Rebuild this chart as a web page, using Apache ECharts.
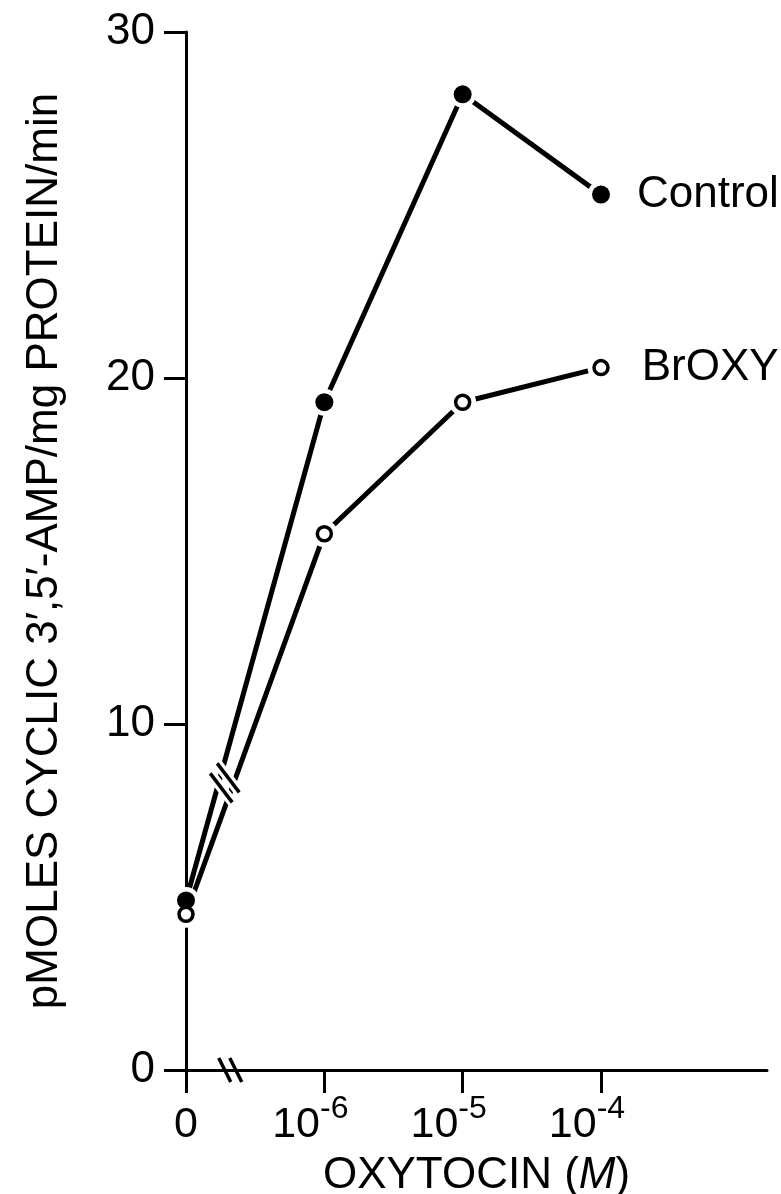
<!DOCTYPE html>
<html><head><meta charset="utf-8">
<script src="https://cdn.jsdelivr.net/npm/echarts@6/dist/echarts.min.js"></script>
<style>html,body{margin:0;padding:0;background:#fff}#c{width:781px;height:1194px}</style>
</head><body><div id="c"></div>
<script>
// ---- data ----
const categories = ['0', '10^-6', '10^-5', '10^-4'];
const tickBase = ['0', '10', '10', '10'];
const tickExp = ['', '-6', '-5', '-4'];
const controlValues = [4.9, 19.3, 28.2, 25.3];
const broxyValues = [4.5, 15.5, 19.3, 20.3];
const seriesNames = ['Control', 'BrOXY'];
const yTickValues = [0, 10, 20, 30];
const yTitle = 'pMOLES CYCLIC 3\u2032,5\u2032-AMP/mg PROTEIN/min';

// ---- chart ----
const FONT = 'Liberation Sans';
const chart = echarts.init(document.getElementById('c'), null, {renderer: 'canvas'});
const pts = vals => categories.map((c, i) => [i, vals[i]]);
const last = categories.length - 1;

const option = {
  animation: false,
  backgroundColor: '#fff',
  grid: {left: 186, top: 32, right: 14, bottom: 124, containLabel: false, outerBoundsMode: 'none'},
  xAxis: {
    type: 'value', min: 0, max: 4.2, interval: 1,
    axisLine: {show: true, onZero: false, lineStyle: {color: '#000', width: 3}},
    axisTick: {show: true, length: 23, lineStyle: {color: '#000', width: 3}, customValues: categories.map((c, i) => i)},
    splitLine: {show: false},
    axisLabel: {
      customValues: categories.map((c, i) => i),
      margin: 23, color: '#000', fontFamily: FONT,
      formatter: v => {
        const i = Math.round(v);
        return tickExp[i] ? `{b|${tickBase[i]}}{s|${tickExp[i]}}` : `{b|${tickBase[i]}}`;
      },
      rich: {
        b: {fontSize: 43, lineHeight: 54, verticalAlign: 'bottom', fontFamily: FONT, color: '#000'},
        s: {fontSize: 32, lineHeight: 30, verticalAlign: 'top', fontFamily: FONT, color: '#000', padding: [0, 28, 0, 0]}
      }
    },
    name: '{n|OXYTOCIN (}{i|M}{n|)}',
    nameLocation: 'middle', nameGap: 84,
    nameTextStyle: {
      rich: {
        n: {fontSize: 44, fontFamily: FONT, color: '#000'},
        i: {fontSize: 44, fontFamily: FONT, color: '#000', fontStyle: 'italic'}
      }
    }
  },
  yAxis: {
    type: 'value', min: 0, max: 30, interval: 10,
    axisLine: {show: true, lineStyle: {color: '#000', width: 3}},
    axisTick: {show: true, length: 22, lineStyle: {color: '#000', width: 3}},
    splitLine: {show: false},
    axisLabel: {margin: 31, fontSize: 44, color: '#000', fontFamily: FONT,
      formatter: v => yTickValues.includes(v) ? String(v) : ''},
    name: yTitle, nameLocation: 'middle', nameGap: 119, nameRotate: 90,
    nameTextStyle: {fontSize: 44, fontFamily: FONT, color: '#000'}
  },
  series: [
    {type: 'line', name: seriesNames[0], data: pts(controlValues), showSymbol: false, z: 2,
     lineStyle: {color: '#000', width: 5}},
    {type: 'line', name: seriesNames[1], data: pts(broxyValues), showSymbol: false, z: 2,
     lineStyle: {color: '#000', width: 5}},
    {type: 'scatter', data: pts(controlValues).concat(pts(broxyValues)), symbolSize: 27, z: 3,
     itemStyle: {color: '#fff', opacity: 1}, silent: true},
    {type: 'scatter', name: seriesNames[0], data: pts(controlValues), symbolSize: 18, z: 4,
     itemStyle: {color: '#000', opacity: 1},
     label: {show: true, position: 'right', distance: 27, fontSize: 44, fontFamily: FONT, color: '#000', opacity: 1,
       formatter: p => p.dataIndex === last ? seriesNames[0] : ''}},
    {type: 'scatter', name: seriesNames[1], data: pts(broxyValues), symbolSize: 14, z: 4,
     itemStyle: {color: '#fff', borderColor: '#000', borderWidth: 3.5, opacity: 1},
     label: {show: true, position: 'right', distance: 32, fontSize: 44, fontFamily: FONT, color: '#000', opacity: 1,
       formatter: p => p.dataIndex === last ? seriesNames[1] : ''}}
  ]
};
chart.setOption(option);

// break marks on the x axis and on the data lines
function breakMark(center, dx, dy, gapX, gapY, halo) {
  const segs = [-1, 1].map(k => ({
    x1: center[0] + k * gapX / 2 - dx, y1: center[1] + k * gapY / 2 - dy,
    x2: center[0] + k * gapX / 2 + dx, y2: center[1] + k * gapY / 2 + dy
  }));
  const out = [];
  if (halo) segs.forEach(s => out.push({type: 'line', z: 10, shape: s, style: {stroke: '#fff', lineWidth: 10}}));
  segs.forEach(s => out.push({type: 'line', z: 11, shape: s, style: {stroke: '#000', lineWidth: 3.5}}));
  return out;
}
const axisBreak = chart.convertToPixel({gridIndex: 0}, [0.32, 0]);
const lineBreak = chart.convertToPixel({gridIndex: 0}, [0.28, 8.3]);
chart.setOption({
  graphic: breakMark(axisBreak, 6, 12, 11, 0, false).concat(breakMark(lineBreak, 11, 14.5, -7, 10, true))
});
</script></body></html>
